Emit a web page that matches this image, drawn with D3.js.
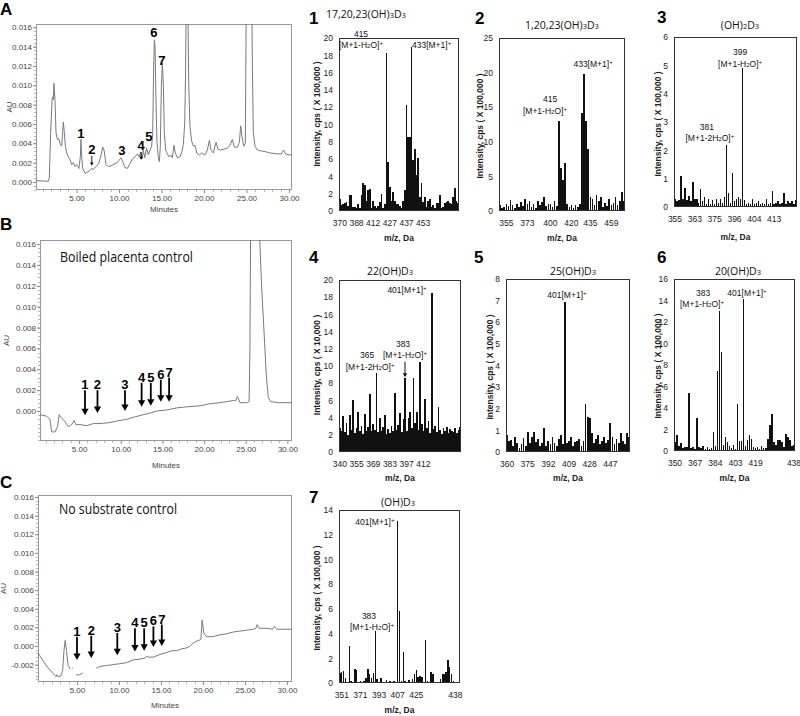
<!DOCTYPE html>
<html><head><meta charset="utf-8">
<script src="https://cdn.jsdelivr.net/npm/d3@7"></script>
<style>body{margin:0;background:#fff}svg{display:block}</style>
</head><body>
<svg id="c" width="800" height="716"></svg>
<script>
// ================= DATA =================
// HPLC chromatograms (retention time in minutes, absorbance in AU)
const aTime=[0.2,1.69,1.8,1.96,2.12,2.2,2.27,2.35,2.47,2.59,2.75,2.9,3.06,3.25,3.37,3.45,3.57,3.69,3.84,4.04,4.24,4.43,4.63,4.82,5.02,5.29,5.45,5.53,5.61,5.73,6.0,6.27,6.59,6.78,6.98,7.3,7.61,7.84,8.08,8.24,8.47,8.75,9.14,9.53,9.8,10.04,10.24,10.43,10.7,10.98,11.29,11.6,11.88,12.16,12.39,12.55,12.71,12.86,13.02,13.25,13.45,13.65,13.84,13.96,14.08,14.16,14.24,14.35,14.47,14.63,14.75,14.86,14.98,15.1,15.22,15.33,15.49,15.69,15.88,16.08,16.27,16.47,16.63,16.86,17.18,17.41,17.57,17.73,17.84,17.92,18.08,18.2,18.35,18.55,18.75,18.94,19.14,19.45,19.73,20.12,20.39,20.63,20.82,21.1,21.41,21.65,21.96,22.35,22.75,23.06,23.33,23.57,23.92,24.16,24.31,24.47,24.67,24.86,24.98,25.61,25.69,25.8,26.0,26.27,26.78,27.37,27.8,28.7,29.1,29.35,29.6,30.0,30.35];
const aAU=[0.00014,0.00007,0.0004,0.0051,0.0085,0.0088,0.0085,0.0102,0.0085,0.0051,0.0044,0.0045,0.0040,0.0037,0.0051,0.0062,0.0051,0.0037,0.0030,0.0026,0.0023,0.0018,0.0020,0.0016,0.0018,0.0014,0.0026,0.0044,0.0026,0.0014,0.0009,0.0010,0.0012,0.0014,0.0013,0.0016,0.0019,0.0026,0.0036,0.0033,0.0018,0.0016,0.0017,0.0019,0.0020,0.0023,0.0025,0.0021,0.0015,0.0014,0.0019,0.0024,0.0026,0.0029,0.0026,0.0031,0.0024,0.0033,0.0025,0.0035,0.0028,0.0033,0.0037,0.0051,0.0119,0.0147,0.0140,0.0085,0.0040,0.0025,0.0021,0.0037,0.0099,0.0123,0.0099,0.0051,0.0033,0.0029,0.0026,0.0028,0.0025,0.0038,0.0030,0.0025,0.0026,0.0032,0.0039,0.0061,0.0119,0.0200,0.0200,0.0102,0.0057,0.0042,0.0037,0.0038,0.0030,0.0028,0.0030,0.0028,0.0033,0.0043,0.0033,0.0030,0.0041,0.0034,0.0033,0.0034,0.0035,0.0038,0.0044,0.0036,0.0036,0.0041,0.0058,0.0047,0.0037,0.0040,0.0200,0.0200,0.0119,0.0051,0.0037,0.0033,0.0032,0.0031,0.0030,0.0029,0.0029,0.0033,0.0029,0.0028,0.0028];
const bTime=[0.3,1.1,1.5,1.7,2.1,2.4,2.6,2.9,3.3,3.7,4.1,4.4,4.6,5.1,5.9,6.7,7.5,8.7,9.9,10.7,11.5,12.7,13.5,14.3,15.5,16.7,17.9,19.5,20.7,21.9,22.7,23.5,23.8,24.0,24.3,25.1,25.4,25.5,25.6,26.5,26.9,27.2,27.45,27.7,28.0,29.0,30.55];
const bAU=[-0.00035,-0.0005,-0.0008,-0.002,-0.002,-0.0015,-0.00035,-0.0007,-0.001,-0.0015,-0.0013,-0.0009,-0.0013,-0.0013,-0.0014,-0.0012,-0.0012,-0.0011,-0.0009,-0.0008,-0.0006,-0.00035,-0.0002,0.0,0.0001,0.0003,0.0004,0.0005,0.0007,0.0008,0.0009,0.0010,0.0010,0.0014,0.0008,0.0008,0.0009,0.006,0.02,0.02,0.012,0.0075,0.0036,0.0013,0.0009,0.0008,0.0008];
const cTime=[0.36,0.9,1.5,2.1,2.5,2.6,2.75,3.1,3.3,3.45,3.6,3.75,3.95,4.2,4.3,4.4,4.5,4.7,4.9,5.3,5.7,6.0,7.3,7.7,8.5,9.3,10.1,10.9,11.7,12.5,13.1,13.3,13.5,14.1,14.9,15.7,16.3,16.9,17.5,18.1,18.5,18.8,19.2,19.75,19.9,20.1,20.4,21.2,22.0,22.8,23.6,24.4,25.2,26.0,26.3,26.45,26.7,27.5,28.3,28.5,28.8,29.5,30.6];
const cAU=[-0.00075,-0.0015,-0.0023,-0.0029,-0.0033,-0.0031,-0.0033,-0.0032,-0.0026,-0.0005,0.0006,-0.0005,-0.0021,-0.0025,null,-0.0024,-0.0024,null,-0.0031,-0.0031,-0.0029,null,-0.0024,-0.0022,-0.0021,-0.0020,-0.0019,-0.0018,-0.0015,-0.0014,-0.0013,-0.0011,-0.0012,-0.0012,-0.0009,-0.0007,-0.0005,-0.0005,-0.0003,-0.0002,0.0,0.0003,0.0005,0.0007,0.0028,0.0014,0.0010,0.0010,0.0012,0.0013,0.0015,0.0016,0.0017,0.0018,0.0019,0.0023,0.0019,0.0019,0.0018,0.0021,0.0018,0.0018,0.0018];

const minuteTicks=[5,10,15,20,25,30];
const auTicksAB=[0,0.002,0.004,0.006,0.008,0.010,0.012,0.014,0.016];
const auTicksC=[-0.002,0,0.002,0.004,0.006,0.008,0.010,0.012,0.014,0.016];

// peak labels in chromatogram A
const aPeakText=["1","2","3","4","5","6","7"];
const aPeakTime=[5.5,6.8,10.35,12.6,13.5,14.1,15.05];
const aPeakAU=[0.0046,0.0029,0.0028,0.0033,0.0042,0.0150,0.0121];
const aSmallArrowTime=[6.8,12.6];
const aSmallArrowTop=[0.0027,0.0031];
const aSmallArrowTip=[0.0017,0.0023];

// arrows in control chromatograms B and C
const arrowText=["1","2","3","4","5","6","7"];
const bArrowTime=[5.7,7.2,10.5,12.5,13.6,14.8,15.8];
const bArrowTop=[0.0020,0.0020,0.0020,0.0027,0.0027,0.0030,0.0032];
const bArrowTip=[-0.0004,-0.0002,0.0000,0.0004,0.0005,0.0009,0.0009];
const cArrowTime=[5.0,6.7,9.8,11.9,13.0,14.1,15.1];
const cArrowTop=[0.0010,0.0011,0.0014,0.0019,0.0019,0.0021,0.0023];
const cArrowTip=[-0.0015,-0.0013,-0.0010,-0.0006,-0.0005,-0.0001,0.0000];

// Mass spectra (intensity per m/z channel)
const spec1=[1.4,0.7,0.8,0.9,1.0,0.6,1.9,1.9,0.5,0.5,0.3,0.8,0.4,1.9,3.2,3.0,1.2,2.4,2.6,0.4,1.2,0.6,0.4,0.6,1.0,2.0,0.4,0.8,18.3,5.7,2.8,1.2,2.2,1.2,0.8,0.8,0.6,0.4,1.2,2.4,12.3,8.5,8.6,19.0,5.9,7.2,4.2,6.1,1.6,3.2,1.0,1.6,0.5,1.2,1.4,0.5,0.7,0.3,0.9,0.9,1.9,0.4,0.5,0.9,1.0,1.2,0.9,0.8,1.6,2.7,1.2,0.9];
const spec1Ticks=["370","388","412","427","437","453"];
const spec1TickIdx=[0,10,20,30,40,50];
const spec2=[0.8,0.5,0.6,1.0,0.7,1.6,0.8,0.5,1.0,0.6,1.3,0.7,1.8,1.0,1.5,0.6,1.0,0.5,1.5,0.8,1.3,2.0,0.7,1.0,1.0,0.6,1.5,0.7,13.0,6.2,4.5,7.0,1.0,0.6,0.8,0.5,0.8,0.6,1.0,14.1,19.8,13.0,8.9,2.0,1.8,0.8,2.3,1.5,2.0,0.6,1.2,0.7,1.8,0.8,1.2,2.0,0.8,1.5,2.8,1.5];
const spec2Ticks=["355","373","400","420","435","459"];
const spec2TickIdx=[3,13,24,34,43,53];
const spec3=[0.3,0.2,0.25,1.1,0.3,0.67,0.25,0.4,0.2,0.9,0.3,0.3,0.15,0.63,0.2,0.35,0.1,0.3,0.1,0.25,0.1,0.3,0.15,0.3,0.15,0.35,2.2,0.5,0.15,1.2,0.2,0.3,0.35,0.3,4.9,0.25,0.1,0.15,0.1,0.3,0.1,0.15,0.2,0.1,0.15,0.1,0.3,0.1,0.15,0.55,0.1,0.15,0.2,0.1,0.15,0.5,0.1,0.2,0.15,0.2,0.1,0.25];
const spec3Ticks=["355","363","375","396","404","413"];
const spec3TickIdx=[0,10,20,30,40,50];
const spec4=[2.8,2.5,4.2,2.3,3.4,2.0,4.3,2.6,6.0,2.2,2.8,4.7,2.4,3.0,2.1,4.4,2.5,2.9,6.8,2.4,3.3,2.6,9.2,2.3,4.0,2.5,2.9,4.3,2.1,2.7,2.2,3.0,2.4,6.9,2.6,3.1,4.5,2.3,3.8,8.6,2.5,3.9,4.7,2.8,8.6,3.4,4.6,2.6,10.5,3.3,2.4,6.2,2.8,3.6,2.2,18.5,2.7,3.0,2.3,5.2,2.6,2.1,2.8,2.4,2.9,2.2,2.7,2.5,2.3,2.8,2.2,2.6,2.9];
const spec4Ticks=["340","355","369","383","397","412"];
const spec4TickIdx=[0,10,20,30,40,50];
const spec5=[0.8,0.5,0.57,0.3,0.7,0.4,0.2,0.35,0.65,0.3,0.93,0.4,0.7,0.93,0.45,0.6,0.3,0.4,1.1,0.3,0.5,0.35,0.7,0.4,0.3,0.6,0.8,0.35,6.95,0.4,0.5,0.7,0.3,0.45,0.5,0.6,0.3,0.5,2.24,1.6,1.55,0.9,0.4,0.6,0.8,0.35,0.5,0.7,0.4,0.55,1.35,0.7,0.35,0.6,0.4,0.9,0.5,0.35,0.9,0.7];
const spec5Ticks=["360","375","392","409","428","447"];
const spec5TickIdx=[0,10,20,30,40,50];
const spec6=[0.8,1.5,0.5,0.7,0.3,0.4,0.4,5.35,0.3,0.4,0.2,3.1,0.4,0.3,0.5,0.2,0.4,0.2,0.3,1.8,0.5,7.45,13.0,9.2,0.6,1.3,0.85,0.5,0.3,0.6,0.2,4.4,0.9,0.9,14.1,0.5,1.0,1.5,1.1,0.4,0.3,0.4,0.2,0.5,0.3,0.3,1.15,2.4,3.4,0.8,0.6,1.0,1.05,0.8,0.4,1.6,1.3,1.0,0.5,0.6];
const spec6Ticks=["350","367","384","403","419","438"];
const spec6TickIdx=[0,10,20,30,40,59];
const spec7=[0.8,0.9,1.0,0.4,0.1,3.0,0.2,0.1,1.1,1.05,0.1,0.15,0.1,0.2,0.4,1.1,0.75,0.4,0.8,4.2,0.3,0.1,0.4,0.1,0.05,0.25,0.1,0.15,0.05,0.2,0.1,13.1,5.8,0.2,2.5,0.2,0.1,0.25,0.1,0.3,0.76,1.08,0.5,0.55,0.5,0.1,3.45,0.2,0.1,0.9,0.7,0.1,0.05,0.1,0.35,0.7,0.75,0.9,1.9,1.3,0.7,0.2,0.1,0.05,0.1];
const spec7Ticks=["351","371","393","407","425","438"];
const spec7TickIdx=[1,11,21,31,41,62];

const specTitles=["17,20,23(OH)_3D_3","1,20,23(OH)_3D_3","(OH)_2D_3","22(OH)D_3","25(OH)D_3","20(OH)D_3","(OH)D_3"];
const specYMax=[20,25,6,20,8,16,14];
const specYStep=[2,5,1,2,1,2,2];
const specYLabel=["Intensity, cps ( X 100,000 )","Intensity, cps ( X 100,000 )","Intensity, cps ( X 100,000 )","Intensity, cps ( X 10,000 )","Intensity, cps ( X 100,000 )","Intensity, cps ( X 100,000 )","Intensity, cps ( X 100,000 )"];
// peak annotations: [text, channel position, intensity, anchor]
const specAnn=[
 [["415",13.2,20.1,"middle"],["[M+1-H_2O]^+",13.2,18.8,"middle"],["433[M+1]^+",43.8,18.8,"start"]],
 [["433[M+1]^+",44.8,20.8,"middle"],["415",24.3,15.7,"middle"],["[M+1-H_2O]^+",21.9,14.0,"middle"]],
 [["399",33.3,5.37,"middle"],["[M+1-H_2O]^+",33.3,4.95,"middle"],["381",16.6,2.72,"middle"],["[M+1-2H_2O]^+",18.1,2.33,"middle"]],
 [["401[M+1]^+",40.7,18.5,"middle"],["383",38.3,12.2,"middle"],["[M+1-H_2O]^+",39.5,10.9,"middle"],["365",16.8,10.9,"middle"],["[M+1-2H_2O]^+",18.6,9.5,"middle"]],
 [["401[M+1]^+",29.5,7.1,"middle"]],
 [["383",14.4,14.4,"middle"],["[M+1-H_2O]^+",13.9,13.4,"middle"],["401[M+1]^+",36.2,14.4,"middle"]],
 [["401[M+1]^+",19.3,12.8,"middle"],["383",16.1,5.2,"middle"],["[M+1-H_2O]^+",17.7,4.3,"middle"]]
];
// arrow in spectrum 4: [channel, from, to]
const spec4Arrow=[39.5,10.5,8.7];

// ================= DRAWING =================
const svg=d3.select("#c");
const FS="'Liberation Sans', Arial, sans-serif";
const FO="'Open Sans', 'Noto Sans', sans-serif";
const defs=svg.append("defs");

function rich(t,s,size){
  let buf="",shift=0;
  const flush=()=>{ if(buf){ const ts=t.append("tspan").text(buf); if(shift){ts.attr("dy",shift);shift=0;} buf=""; } };
  for(let i=0;i<s.length;i++){
    const ch=s[i];
    if((ch==="_"||ch==="^")&&i+1<s.length){
      flush();
      const ts=t.append("tspan").text(s[i+1]).attr("font-size",size*0.72);
      if(ch==="^"){ ts.attr("dy",(shift||0)-size*0.38); shift=size*0.38; }
      else if(shift){ ts.attr("dy",shift); shift=0; }
      i++;
    } else buf+=ch;
  }
  flush();
}

function chrom(c){
  const x=d3.scaleLinear().domain(c.xDomain).range([c.L,c.R]);
  const y=d3.scaleLinear().domain(c.yDomain).range([c.B,c.T]);
  const g=svg.append("g");
  const cid="clip"+c.key;
  defs.append("clipPath").attr("id",cid).append("rect").attr("x",c.L).attr("y",c.T).attr("width",c.R-c.L).attr("height",c.B-c.T);
  const minorY=d3.range(Math.ceil(c.yDomain[0]/0.0004),Math.floor(c.yDomain[1]/0.0004)+1).map(k=>k*0.0004);
  g.selectAll(".my").data(minorY).join("line").attr("x1",c.L-2).attr("x2",c.L).attr("y1",d=>Math.round(y(d))+0.5).attr("y2",d=>Math.round(y(d))+0.5).attr("stroke","#999").attr("stroke-width",0.7);
  const minorX=d3.range(1,31).filter(d=>d%5!==0&&d>=c.xDomain[0]&&d<=c.xDomain[1]);
  g.selectAll(".mx").data(minorX).join("line").attr("x1",d=>Math.round(x(d))+0.5).attr("x2",d=>Math.round(x(d))+0.5).attr("y1",c.B).attr("y2",c.B+2).attr("stroke","#999").attr("stroke-width",0.7);
  const fmt=d=>d3.format(".3f")(d).replace("\u2212","-");
  const ya=g.append("g").attr("transform",`translate(${c.L},0)`).call(d3.axisLeft(y).tickValues(c.yTicks).tickFormat(fmt).tickSize(3).tickPadding(1));
  ya.select(".domain").remove();
  ya.selectAll("line").attr("stroke","#888");
  ya.selectAll("text").attr("font-family",FS).attr("font-size",8).attr("fill","#444");
  const xa=g.append("g").attr("transform",`translate(0,${c.B})`).call(d3.axisBottom(x).tickValues(minuteTicks).tickFormat(d=>d.toFixed(2)).tickSize(3).tickPadding(2));
  xa.select(".domain").remove();
  xa.selectAll("line").attr("stroke","#888");
  xa.selectAll("text").attr("font-family",FS).attr("font-size",8).attr("fill","#444");
  g.append("rect").attr("x",c.L+0.5).attr("y",c.T+0.5).attr("width",c.R-c.L-1).attr("height",c.B-c.T-1).attr("fill","none").attr("stroke","#999").attr("stroke-width",1);
  const pts=c.time.map((t,i)=>[t,c.au[i]]);
  const line=d3.line().defined(d=>d[1]!==null).x(d=>x(d[0])).y(d=>y(d[1]));
  g.append("path").attr("d",line(pts)).attr("clip-path",`url(#${cid})`).attr("fill","none").attr("stroke","#7a7a7a").attr("stroke-width",1);
  g.append("text").text("Minutes").attr("x",(c.L+c.R)/2).attr("y",c.minY).attr("text-anchor","middle").attr("font-family",FS).attr("font-size",8).attr("fill","#444");
  g.append("text").text("AU").attr("transform",`translate(${c.auX},${(c.T+c.B)/2}) rotate(-90)`).attr("text-anchor","middle").attr("font-family",FS).attr("font-size",8).attr("fill","#444");
  g.append("text").text(c.letter).attr("x",0).attr("y",c.letterY).attr("font-family",FS).attr("font-weight","bold").attr("font-size",17).attr("fill","#000");
  return {g,x,y};
}

function bigArrows(g,x,y,times,tops,tips,labels){
  times.forEach((t,i)=>{
    const xx=x(t),y0=y(tops[i]),y1=y(tips[i]);
    g.append("line").attr("x1",xx).attr("x2",xx).attr("y1",y0).attr("y2",y1-5).attr("stroke","#000").attr("stroke-width",1.8);
    g.append("path").attr("d",`M${xx-3.6},${y1-6.5}L${xx+3.6},${y1-6.5}L${xx},${y1}Z`).attr("fill","#000");
    g.append("text").text(labels[i]).attr("x",xx).attr("y",y0-1).attr("text-anchor","middle").attr("font-family",FS).attr("font-weight","bold").attr("font-size",13).attr("fill","#000");
  });
}

// --- Panel A
const A=chrom({key:"A",time:aTime,au:aAU,xDomain:[0.235,30.35],yDomain:[-0.00083,0.01634],L:36,R:292,T:24,B:190,yTicks:auTicksAB,minY:212,auX:12,letter:"A",letterY:15});
aPeakText.forEach((s,i)=>{
  A.g.append("text").text(s).attr("x",A.x(aPeakTime[i])).attr("y",A.y(aPeakAU[i])).attr("text-anchor","middle").attr("font-family",FS).attr("font-weight","bold").attr("font-size",13).attr("fill","#000");
});
aSmallArrowTime.forEach((t,i)=>{
  const xx=A.x(t),y0=A.y(aSmallArrowTop[i]),y1=A.y(aSmallArrowTip[i]);
  A.g.append("line").attr("x1",xx).attr("x2",xx).attr("y1",y0).attr("y2",y1-2).attr("stroke","#000").attr("stroke-width",0.9);
  A.g.append("path").attr("d",`M${xx-1.8},${y1-3}L${xx+1.8},${y1-3}L${xx},${y1}Z`).attr("fill","#000");
});

// --- Panel B
const B=chrom({key:"B",time:bTime,au:bAU,xDomain:[0.3,30.55],yDomain:[-0.00287,0.01638],L:40,R:292,T:240,B:441,yTicks:auTicksAB,minY:468,auX:9,letter:"B",letterY:230});
B.g.append("text").text("Boiled placenta control").attr("x",60).attr("y",262).attr("font-family",FO).attr("font-size",14).attr("textLength",133).attr("lengthAdjust","spacingAndGlyphs").attr("fill","#111");
bigArrows(B.g,B.x,B.y,bArrowTime,bArrowTop,bArrowTip,arrowText);

// --- Panel C
const C=chrom({key:"C",time:cTime,au:cAU,xDomain:[0.36,30.6],yDomain:[-0.00387,0.01622],L:38,R:292,T:495,B:682,yTicks:auTicksC,minY:708,auX:6,letter:"C",letterY:488});
C.g.append("text").text("No substrate control").attr("x",59).attr("y",514).attr("font-family",FO).attr("font-size",14).attr("textLength",118).attr("lengthAdjust","spacingAndGlyphs").attr("fill","#111");
bigArrows(C.g,C.x,C.y,cArrowTime,cArrowTop,cArrowTip,arrowText);

// --- Mass spectra
const specData=[spec1,spec2,spec3,spec4,spec5,spec6,spec7];
const specTicks=[spec1Ticks,spec2Ticks,spec3Ticks,spec4Ticks,spec5Ticks,spec6Ticks,spec7Ticks];
const specTickIdx=[spec1TickIdx,spec2TickIdx,spec3TickIdx,spec4TickIdx,spec5TickIdx,spec6TickIdx,spec7TickIdx];
const specLayout=[
 {L:339,R:459,T:38,B:211,numX:309,numY:24,tX:366,tY:18,ylX:320,ylY:114,xlY:241,fill:0.85},
 {L:499,R:625,T:38,B:211,numX:475,numY:24,tX:562,tY:29,ylX:483,ylY:126,xlY:241,fill:0.8},
 {L:674,R:797,T:37,B:207,numX:657,numY:23,tX:740,tY:29,ylX:661,ylY:124,xlY:240,fill:0.7},
 {L:339,R:461,T:280,B:452,numX:309,numY:263,tX:390,tY:275,ylX:320,ylY:365,xlY:481,fill:1.0},
 {L:506,R:630,T:279,B:452,numX:474,numY:263,tX:573,tY:275,ylX:493,ylY:367,xlY:481,fill:0.85},
 {L:674,R:795,T:279,B:451,numX:657,numY:263,tX:738,tY:275,ylX:661,ylY:366,xlY:481,fill:0.75},
 {L:339,R:460,T:510,B:683,numX:309,numY:503,tX:398,tY:506,ylX:320,ylY:598,xlY:713,fill:0.75}
];

specData.forEach((data,k)=>{
  const lay=specLayout[k];
  const n=data.length;
  const g=svg.append("g");
  const xi=d3.scaleLinear().domain([0,n]).range([lay.L,lay.R]);
  const y=d3.scaleLinear().domain([0,specYMax[k]]).range([lay.B,lay.T]);
  const bw=(lay.R-lay.L)/n;
  const w=Math.max(1,bw*lay.fill);
  g.selectAll("rect.bar").data(data).join("rect").attr("class","bar")
    .attr("x",(d,i)=>xi(i)+(bw-w)/2).attr("width",w)
    .attr("y",d=>y(d)).attr("height",d=>lay.B-y(d)).attr("fill","#111")
    .attr("shape-rendering","crispEdges");
  g.append("rect").attr("x",lay.L+0.5).attr("y",lay.T+0.5).attr("width",lay.R-lay.L-1).attr("height",lay.B-lay.T-1).attr("fill","none").attr("stroke","#333").attr("stroke-width",1);
  const ya=g.append("g").attr("transform",`translate(${lay.L},0)`).call(d3.axisLeft(y).tickValues(d3.range(0,specYMax[k]+1e-9,specYStep[k])).tickFormat(d3.format("d")).tickSize(0).tickPadding(6));
  ya.select(".domain").remove();
  ya.selectAll("text").attr("font-family",FS).attr("font-size",8.5).attr("fill","#222");
  specTickIdx[k].forEach((ti,j)=>{
    g.append("text").text(specTicks[k][j]).attr("x",xi(ti+0.5)).attr("y",lay.B+15).attr("text-anchor","middle").attr("font-family",FS).attr("font-size",8.5).attr("fill","#222");
  });
  g.append("text").text("m/z, Da").attr("x",(lay.L+lay.R)/2).attr("y",lay.xlY).attr("text-anchor","middle").attr("font-family",FS).attr("font-weight","bold").attr("font-size",8.5).attr("fill","#222");
  g.append("text").text(specYLabel[k]).attr("transform",`translate(${lay.ylX},${lay.ylY}) rotate(-90)`).attr("text-anchor","middle").attr("font-family",FS).attr("font-weight","bold").attr("font-size",8.5).attr("fill","#222");
  g.append("text").text(String(k+1)).attr("x",lay.numX).attr("y",lay.numY).attr("font-family",FS).attr("font-weight","bold").attr("font-size",17).attr("fill","#000");
  const tt=g.append("text").attr("x",lay.tX).attr("y",lay.tY).attr("text-anchor","middle").attr("font-family",FO).attr("font-size",10.5).attr("fill","#111");
  rich(tt,specTitles[k],10.5);
  specAnn[k].forEach(a=>{
    const t=g.append("text").attr("x",xi(a[1])).attr("y",y(a[2])).attr("text-anchor",a[3]).attr("font-family",FS).attr("font-size",8.5).attr("fill","#111");
    rich(t,a[0],8.5);
  });
  if(k===3){
    const xx=xi(spec4Arrow[0]),y0=y(spec4Arrow[1]),y1=y(spec4Arrow[2]);
    g.append("line").attr("x1",xx).attr("x2",xx).attr("y1",y0).attr("y2",y1-3).attr("stroke","#111").attr("stroke-width",1);
    g.append("path").attr("d",`M${xx-2.2},${y1-4}L${xx+2.2},${y1-4}L${xx},${y1}Z`).attr("fill","#111");
  }
});
</script>
</body></html>
